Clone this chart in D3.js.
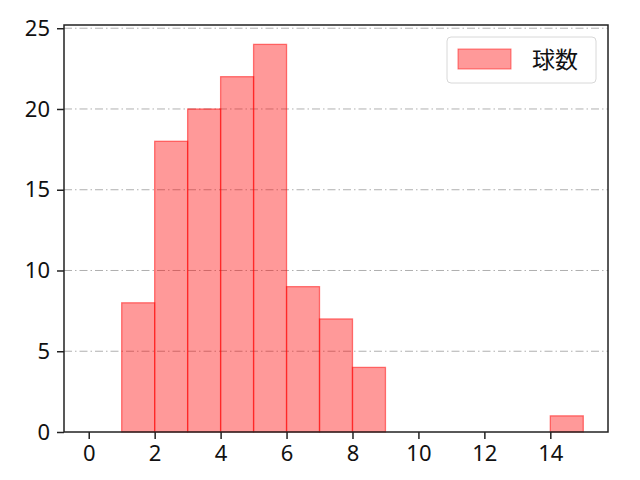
<!DOCTYPE html>
<meta charset="utf-8">
<script src="https://d3js.org/d3.v7.min.js"></script>
<style>
  body { margin: 0; background: #fff; }
  text { font-family: "Noto Sans CJK JP", "Noto Sans", sans-serif; }
</style>
<div id="page"></div>
<script>
  // Histogram bins (lower edge, upper edge) and counts
  var binStart = [1, 2, 3, 4, 5, 6, 7, 8, 14];
  var binEnd   = [2, 3, 4, 5, 6, 7, 8, 9, 15];
  var counts   = [8, 18, 20, 22, 24, 9, 7, 4, 1];
  var xTicks = [0, 2, 4, 6, 8, 10, 12, 14];
  var yTicks = [0, 5, 10, 15, 20, 25];
  var seriesName = "球数";

  var margin = { top: 25, right: 32, bottom: 48, left: 64 },
    width = 640 - margin.left - margin.right,
    height = 480 - margin.top - margin.bottom;

  var svg = d3.select("#page")
    .append("svg")
    .attr("width", 640)
    .attr("height", 480)
    .append("g")
    .attr("transform", "translate(" + margin.left + "," + margin.top + ")");

  var x = d3.scaleLinear().domain([-0.75, 15.75]).range([0, width]);
  var y = d3.scaleLinear().domain([0, 25.2]).range([height, 0]);

  // grid lines (dash-dot)
  svg.append("g")
    .selectAll("line")
    .data(yTicks.filter(function (d) { return d > 0; }))
    .enter()
    .append("line")
    .attr("x1", 0).attr("x2", width)
    .attr("y1", function (d) { return y(d); })
    .attr("y2", function (d) { return y(d); })
    .attr("stroke", "#b0b0b0")
    .attr("stroke-width", 1)
    .attr("stroke-dasharray", "8,3,1.5,3");

  // bars
  var bins = counts.map(function (c, i) { return { x0: binStart[i], x1: binEnd[i], v: c }; });
  svg.selectAll("rect.bar")
    .data(bins)
    .enter()
    .append("rect")
    .attr("class", "bar")
    .attr("x", function (d) { return x(d.x0); })
    .attr("width", function (d) { return x(d.x1) - x(d.x0); })
    .attr("y", function (d) { return y(d.v); })
    .attr("height", function (d) { return y(0) - y(d.v); })
    .attr("fill", "rgba(255,0,0,0.4)")
    .attr("stroke", "rgba(255,0,0,0.5)")
    .attr("stroke-width", 1.3);

  // axes
  var xAxis = svg.append("g")
    .attr("transform", "translate(0," + height + ")")
    .call(d3.axisBottom(x).tickValues(xTicks).tickSize(7).tickPadding(6).tickFormat(d3.format("d")));
  var yAxis = svg.append("g")
    .call(d3.axisLeft(y).tickValues(yTicks).tickSize(7).tickPadding(7).tickFormat(d3.format("d")));
  [xAxis, yAxis].forEach(function (a) {
    a.select(".domain").remove();
    a.selectAll("line").attr("stroke", "#222").attr("stroke-width", 1.5);
    a.selectAll("text").attr("font-size", "22px").attr("fill", "#111")
      .style("font-family", "'Noto Sans', sans-serif");
  });

  // frame
  svg.append("rect")
    .attr("width", width).attr("height", height)
    .attr("fill", "none").attr("stroke", "#222").attr("stroke-width", 1.5);

  // legend
  var lg = svg.append("g").attr("transform", "translate(" + (447 - margin.left) + "," + (37 - margin.top) + ")");
  lg.append("rect")
    .attr("width", 149).attr("height", 46).attr("rx", 4)
    .attr("fill", "rgba(255,255,255,0.8)").attr("stroke", "#d8d8d8");
  lg.append("rect")
    .attr("x", 11).attr("y", 12).attr("width", 53).attr("height", 20)
    .attr("fill", "rgba(255,0,0,0.4)").attr("stroke", "rgba(255,0,0,0.5)");
  lg.append("text")
    .attr("x", 85).attr("y", 31)
    .attr("font-size", "23px").attr("fill", "#111")
    .style("font-family", "'Noto Sans CJK JP', sans-serif")
    .text(seriesName);
</script>
